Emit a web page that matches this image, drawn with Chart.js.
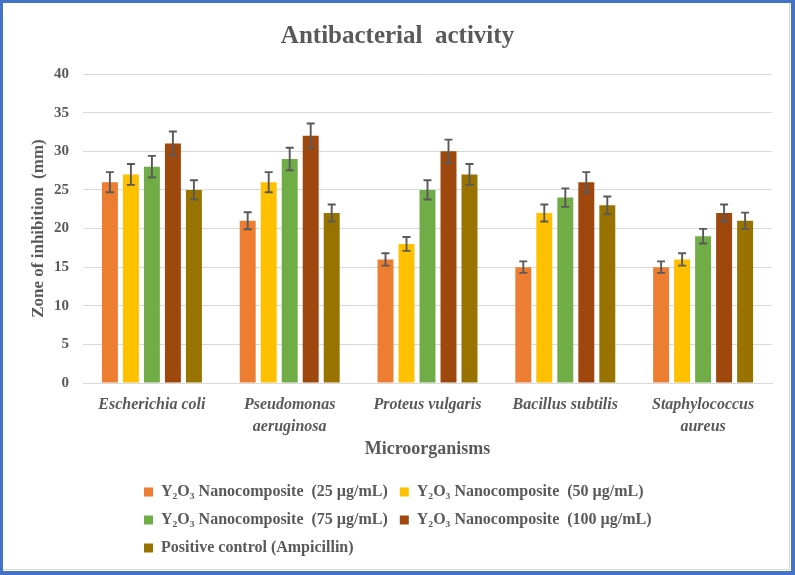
<!DOCTYPE html>
<html><head><meta charset="utf-8">
<script src="https://cdn.jsdelivr.net/npm/chart.js@4.4.1/dist/chart.umd.min.js"></script>
<style>html,body{margin:0;padding:0;background:#fff;}canvas{display:block;}</style>
</head><body>
<canvas id="c" width="795" height="575"></canvas>
<script>
// ---- data ----
const categories = ["Escherichia coli", ["Pseudomonas", "aeruginosa"], "Proteus vulgaris", "Bacillus subtilis", ["Staphylococcus", "aureus"]];
const seriesNames = [
  "Y\u2082O\u2083 Nanocomposite  (25 \u00b5g/mL)",
  "Y\u2082O\u2083 Nanocomposite  (50 \u00b5g/mL)",
  "Y\u2082O\u2083 Nanocomposite  (75 \u00b5g/mL)",
  "Y\u2082O\u2083 Nanocomposite  (100 \u00b5g/mL)",
  "Positive control (Ampicillin)"
];
const val25  = [26, 21, 16, 15, 15];
const val50  = [27, 26, 18, 22, 16];
const val75  = [28, 29, 25, 24, 19];
const val100 = [31, 32, 30, 26, 22];
const valCtrl = [25, 22, 27, 23, 21];
const err25  = [1.3, 1.1, 0.8, 0.75, 0.75];
const err50  = [1.35, 1.3, 0.9, 1.1, 0.8];
const err75  = [1.4, 1.45, 1.25, 1.2, 0.95];
const err100 = [1.55, 1.6, 1.5, 1.3, 1.1];
const errCtrl = [1.25, 1.1, 1.35, 1.15, 1.05];
const yTickValues = [0, 5, 10, 15, 20, 25, 30, 35, 40];

const colors = ["#ED7D31", "#FFC000", "#70AD47", "#9E480E", "#997300"];
const values = [val25, val50, val75, val100, valCtrl];
const errors = [err25, err50, err75, err100, errCtrl];

const SERIF = "'Liberation Serif', 'Times New Roman', serif";
const GREY = "#595959";

const errorBarPlugin = {
  id: 'errorBars',
  afterDatasetsDraw(chart) {
    const ctx = chart.ctx;
    const y = chart.scales.y;
    ctx.save();
    ctx.strokeStyle = GREY;
    ctx.lineWidth = 1.9;
    chart.data.datasets.forEach((ds, i) => {
      const meta = chart.getDatasetMeta(i);
      meta.data.forEach((bar, j) => {
        const v = ds.data[j], e = ds.errors[j];
        const x = bar.x;
        const yt = y.getPixelForValue(v + e);
        const yb = y.getPixelForValue(v - e);
        ctx.beginPath();
        ctx.moveTo(x, yt); ctx.lineTo(x, yb);
        ctx.moveTo(x - 4, yt); ctx.lineTo(x + 4, yt);
        ctx.moveTo(x - 4, yb); ctx.lineTo(x + 4, yb);
        ctx.stroke();
      });
    });
    ctx.restore();
  }
};

const frameBgPlugin = {
  id: 'frameBg',
  beforeDraw(chart) {
    const ctx = chart.ctx;
    ctx.save();
    ctx.fillStyle = '#ffffff';
    ctx.fillRect(0, 0, chart.width, chart.height);
    ctx.restore();
  },
  afterDraw(chart) {
    const ctx = chart.ctx;
    const w = chart.width, h = chart.height;
    ctx.save();
    ctx.fillStyle = '#d9d9d9';
    ctx.fillRect(3, h - 6, w - 8, 1);
    ctx.fillRect(w - 6, 3, 1, h - 8);
    ctx.fillStyle = '#4472C4';
    ctx.fillRect(0, 0, w, 3);
    ctx.fillRect(0, 0, 3, h);
    ctx.fillRect(w - 4, 0, 4, h);
    ctx.fillRect(0, h - 4, w, 4);
    ctx.restore();
  }
};

// keep the legend two items per row and left-aligned; centre the title on the page
const layoutTweakPlugin = {
  id: 'layoutTweak',
  beforeLayout(chart) {
    const lg = chart.legend;
    if (lg && !lg._rowPatched) {
      const orig = lg._fitRows;
      lg._fitRows = function (...args) {
        const m = this.maxWidth;
        this.maxWidth = Math.min(m, 600);
        const r = orig.apply(this, args);
        this.maxWidth = m;
        return r;
      };
      lg._rowPatched = true;
    }
  },
  afterLayout(chart) {
    if (chart.legend) chart.legend.left = 132;
    if (chart.titleBlock) { chart.titleBlock.left = 0; chart.titleBlock.right = chart.width; }
  }
};

new Chart(document.getElementById('c'), {
  type: 'bar',
  data: {
    labels: categories,
    datasets: values.map((v, i) => ({
      label: seriesNames[i],
      data: v,
      errors: errors[i],
      backgroundColor: colors[i],
      borderWidth: 0,
      categoryPercentage: 0.762,
      barPercentage: 0.76
    }))
  },
  options: {
    responsive: false,
    animation: false,
    devicePixelRatio: 1,
    layout: { padding: { top: 0, left: 0, right: 23, bottom: 9 } },
    plugins: {
      title: {
        display: true,
        text: 'Antibacterial  activity',
        color: GREY,
        font: { family: SERIF, size: 25, weight: 'bold', lineHeight: 1.2 },
        padding: { top: 22, bottom: 22 }
      },
      legend: {
        display: true,
        position: 'bottom',
        align: 'start',
        fullSize: false,
        labels: {
          color: GREY,
          font: { family: SERIF, size: 16, weight: 'bold' },
          boxWidth: 9,
          boxHeight: 9,
          padding: 12
        }
      },
      tooltip: { enabled: false }
    },
    scales: {
      x: {
        grid: { display: false, drawTicks: false },
        border: { display: true, color: '#d9d9d9', width: 1 },
        ticks: {
          color: GREY,
          font: { family: SERIF, size: 16, weight: 'bold', style: 'italic', lineHeight: 1.375 },
          padding: 11,
          maxRotation: 0,
          autoSkip: false
        },
        title: {
          display: true,
          text: 'Microorganisms',
          color: GREY,
          font: { family: SERIF, size: 18, weight: 'bold', lineHeight: 1.2 },
          padding: { top: 2, bottom: 12 }
        },
        afterFit(s) { s.height = 89; }
      },
      y: {
        min: 0,
        max: 40,
        afterBuildTicks(s) { s.ticks = yTickValues.map(v => ({ value: v })); },
        grid: { color: '#d9d9d9', lineWidth: 1, drawTicks: false },
        border: { display: false },
        ticks: {
          color: GREY,
          font: { family: SERIF, size: 15, weight: 'bold' },
          padding: 14
        },
        title: {
          display: true,
          text: 'Zone of inhibition  (mm)',
          color: GREY,
          font: { family: SERIF, size: 17, weight: 'bold', lineHeight: 1.2 },
          padding: { top: 28, bottom: 0 }
        },
        afterFit(s) { s.width = 83; }
      }
    }
  },
  plugins: [frameBgPlugin, errorBarPlugin, layoutTweakPlugin]
});
</script>
</body></html>
